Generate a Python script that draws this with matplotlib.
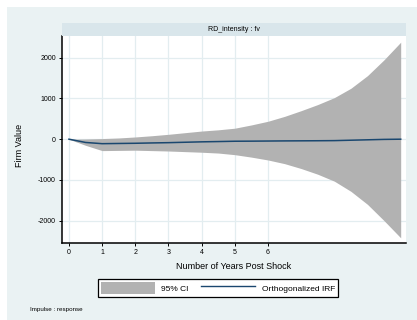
import matplotlib
matplotlib.use("Agg")
import matplotlib.pyplot as plt
from matplotlib.patches import Rectangle, Patch
from matplotlib.lines import Line2D

plt.rcParams['font.family'] = ['Liberation Sans', 'DejaVu Sans']

# Data (at half-year steps)
steps = [0, 0.5, 1, 1.5, 2, 2.5, 3, 3.5, 4, 4.5, 5, 5.5, 6, 6.5, 7, 7.5, 8, 8.5, 9, 9.5, 10]
irf = [0, -80, -110, -105, -100, -92, -85, -75, -65, -58, -50, -48, -45, -42, -40, -38, -35, -25, -15, -5, 0]
ci_upper = [0, 5, 15, 30, 55, 85, 120, 160, 200, 230, 270, 350, 440, 560, 700, 850,
            1020, 1250, 1560, 1950, 2380]
ci_lower = [0, -150, -280, -275, -270, -280, -290, -305, -320, -340, -380, -440, -510, -600,
            -720, -860, -1030, -1280, -1600, -2000, -2420]
x_ticks = [0, 1, 2, 3, 4, 5, 6]
y_ticks = [-2000, -1000, 0, 1000, 2000]
panel_title = "RD_intensity : fv"
x_label = "Number of Years Post Shock"
y_label = "Firm Value"
legend_labels = ["95% CI", "Orthogonalized IRF"]
note = "Impulse : response"

W, H = 417, 320
fig = plt.figure(figsize=(W / 100, H / 100), dpi=100)
fig.patch.set_facecolor('white')

panel_bg = '#EAF2F3'
fig.patches.append(Rectangle((7 / W, 0), 1 - 7 / W, 1 - 7 / H, transform=fig.transFigure,
                             facecolor=panel_bg, edgecolor='none', zorder=-10))

ax_l, ax_r, ax_top, ax_bot = 62, 406, 36, 243
ax = fig.add_axes([ax_l / W, 1 - ax_bot / H, (ax_r - ax_l) / W, (ax_bot - ax_top) / H])
ax.set_facecolor('white')

# title strip
fig.patches.append(Rectangle((ax_l / W, 1 - ax_top / H), (ax_r - ax_l) / W, 13 / H,
                             transform=fig.transFigure, facecolor='#D9E6EB', edgecolor='none'))
fig.text((ax_l + ax_r) / 2 / W, 1 - 29.5 / H, panel_title, ha='center', va='center', fontsize=5)

ax.fill_between(steps, ci_lower, ci_upper, color='#B2B2B2', linewidth=0, zorder=2)
ax.plot(steps, irf, color='#1A476F', linewidth=1.1, zorder=3)

ax.set_xlim(-0.21, 10.16)
ax.set_ylim(-2547, 2532)
ax.set_xticks(x_ticks)
ax.set_yticks(y_ticks)
ax.set_xticklabels([str(t) for t in x_ticks], fontsize=5)
ax.set_yticklabels([str(t) for t in y_ticks], fontsize=5)
ax.grid(True, color='#E3EDF0', linewidth=0.9, zorder=0)
ax.set_axisbelow(True)

for s in ['top', 'right']:
    ax.spines[s].set_visible(False)
ax.spines['left'].set_linewidth(1.1)
ax.spines['bottom'].set_linewidth(1.1)
ax.tick_params(axis='both', length=2.5, width=0.7, pad=2, color='black')

ax.set_xlabel(x_label, fontsize=6.5, labelpad=4)
fig.text(20 / W, 1 - 145 / H, y_label, rotation=90, ha='center', va='center', fontsize=6.5)

handles = [Patch(facecolor='#B2B2B2', edgecolor='none'),
           Line2D([0], [0], color='#1A476F', linewidth=1.0)]
leg = fig.legend(handles, legend_labels, loc='center', ncol=2,
                 bbox_to_anchor=(218 / W, 1 - 288 / H), fontsize=6, frameon=True,
                 fancybox=False, edgecolor='black', facecolor='white', framealpha=1,
                 handlelength=6.5, handleheight=1.9, columnspacing=1.5, handletextpad=0.8,
                 borderpad=0.3)
leg.get_frame().set_linewidth(0.9)

fig.text(30 / W, 1 - 309 / H, note, ha='left', va='center', fontsize=4.5)

fig.savefig('out.png', dpi=100)
